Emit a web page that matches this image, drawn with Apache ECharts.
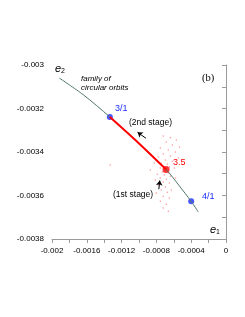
<!DOCTYPE html>
<html><head><meta charset="utf-8">
<script src="https://cdn.jsdelivr.net/npm/echarts@6/dist/echarts.min.js"></script>
<style>html,body{margin:0;padding:0;background:#fff}#c{width:245px;height:317px}</style>
</head><body><div id="c"></div>
<script>
// family of circular orbits (e1, e2)
const familyE1 = [-0.001916, -0.00164, -0.001335, -0.001012, -0.000689, -0.000544, -0.0004, -0.00032];
const familyE2 = [-0.00306, -0.003137, -0.003239, -0.003356, -0.00348, -0.003552, -0.003627, -0.003675];
// red segment (3/1 -> 3.5)
const stageE1 = [-0.001335, -0.001012, -0.000689];
const stageE2 = [-0.003239, -0.003356, -0.00348];
// marked resonances
const resNames = ['3/1', '4/1'];
const resE1 = [-0.001335, -0.0004];
const resE2 = [-0.003239, -0.003627];
const finalE1 = [-0.000689];
const finalE2 = [-0.00348];
// cloud of evolution points
const cloudE1 = [-0.000721,-0.000640,-0.000571,-0.000686,-0.000617,-0.000536,-0.000755,-0.000663,-0.000582,-0.000721,-0.000640,-0.000548,-0.000778,-0.000697,-0.000617,-0.000744,-0.000674,-0.000721,-0.000651,-0.000755,-0.000686,-0.000732,-0.000663,-0.000790,-0.000709,-0.000640,-0.000755,-0.000686,-0.000813,-0.000721,-0.000651,-0.000778,-0.000697,-0.000744,-0.000674,-0.000801,-0.000721,-0.000651,-0.000755,-0.000686,-0.000721,-0.000663,-0.001331,-0.000870,-0.000594,-0.000824,-0.000628,-0.000582];
const cloudE2 = [-0.003326,-0.003335,-0.003345,-0.003354,-0.003368,-0.003377,-0.003382,-0.003391,-0.003400,-0.003409,-0.003418,-0.003428,-0.003423,-0.003437,-0.003442,-0.003451,-0.003455,-0.003465,-0.003469,-0.003474,-0.003483,-0.003492,-0.003497,-0.003502,-0.003506,-0.003511,-0.003520,-0.003525,-0.003529,-0.003538,-0.003543,-0.003552,-0.003561,-0.003575,-0.003585,-0.003589,-0.003603,-0.003612,-0.003626,-0.003640,-0.003658,-0.003672,-0.003460,-0.003483,-0.003474,-0.003451,-0.003575,-0.003520];
// arrows [startE1, startE2, endE1, endE2]
const arrow2nd = [-0.00092, -0.003337, -0.001017, -0.003309];
const arrow1st = [-0.000772, -0.003571, -0.000761, -0.003531];
const xTicks = { min: -0.002, max: 0, interval: 0.0004 };
const yTicks = { min: -0.0038, max: -0.003, interval: 0.0002 };

const zip = (a, b) => a.map((v, i) => [v, b[i]]);
const fmt = v => String(parseFloat(v.toFixed(6)));
const chart = echarts.init(document.getElementById('c'));
const FONT = 'Liberation Sans, Arial, sans-serif';
const axisCommon = {
  axisLine: { show: true, lineStyle: { color: '#9a9a9a', width: 1 } },
  axisTick: { show: true, length: 4, lineStyle: { color: '#9a9a9a' } },
  minorTick: { show: true, splitNumber: 2, length: 4, lineStyle: { color: '#9a9a9a' } },
  splitLine: { show: false },
  axisLabel: { color: '#000', fontSize: 8, fontFamily: FONT, margin: 8, formatter: fmt }
};
chart.setOption({
  animation: false,
  grid: { left: 52, right: 19, top: 65, bottom: 78 },
  xAxis: Object.assign({ type: 'value' }, xTicks, axisCommon),
  yAxis: Object.assign({ type: 'value' }, yTicks, axisCommon),
  series: [
    { type: 'scatter', data: zip(cloudE1, cloudE2), symbolSize: 1.5, itemStyle: { color: '#ff7a7a', opacity: 0.8 }, silent: true },
    { type: 'line', data: zip(familyE1, familyE2), smooth: 0.3, showSymbol: false, lineStyle: { color: '#4f7566', width: 1 } },
    { type: 'line', data: zip(stageE1, stageE2), smooth: 0.3, showSymbol: false, lineStyle: { color: '#ff0000', width: 2 } },
    { type: 'scatter', data: zip(resE1, resE2), symbolSize: 6, itemStyle: { color: '#1a2cff' } },
    { type: 'scatter', data: zip(finalE1, finalE2), symbolSize: 7, itemStyle: { color: '#ff0000' } },
    { type: 'line', data: [], markLine: {
        silent: true, symbol: ['none', 'arrow'], symbolSize: 5, label: { show: false },
        lineStyle: { color: '#000', width: 1, type: 'solid' },
        data: [
          [{ coord: [arrow2nd[0], arrow2nd[1]] }, { coord: [arrow2nd[2], arrow2nd[3]] }],
          [{ coord: [arrow1st[0], arrow1st[1]] }, { coord: [arrow1st[2], arrow1st[3]] }]
        ] } }
  ],
  graphic: [
    { type: 'text', left: 55, top: 63, style: { text: '{e|e}{s|2}', rich: { e: { fontSize: 11, fontStyle: 'italic', fontFamily: FONT, fill: '#000' }, s: { fontSize: 7, fontFamily: FONT, fill: '#000', padding: [6, 0, 0, 0] } } } },
    { type: 'text', left: 210, top: 224, style: { text: '{e|e}{s|1}', rich: { e: { fontSize: 11, fontStyle: 'italic', fontFamily: FONT, fill: '#000' }, s: { fontSize: 7, fontFamily: FONT, fill: '#000', padding: [6, 0, 0, 0] } } } },
    { type: 'text', left: 81, top: 74, style: { text: 'family of\ncircular orbits', fontSize: 8, lineHeight: 9.5, fontStyle: 'italic', fontFamily: FONT, fill: '#000' } },
    { type: 'text', left: 202, top: 73, style: { text: '(b)', fontSize: 10.5, fontFamily: 'Liberation Serif, serif', fill: '#000' } },
    { type: 'text', left: 115, top: 104, style: { text: '3/1', fontSize: 9, fontFamily: FONT, fill: '#1a2cff' } },
    { type: 'text', left: 129, top: 118, style: { text: '(2nd stage)', fontSize: 8.5, fontFamily: FONT, fill: '#000' } },
    { type: 'text', left: 173, top: 158, style: { text: '3.5', fontSize: 9, fontFamily: FONT, fill: '#ff0000' } },
    { type: 'text', left: 113, top: 190, style: { text: '(1st stage)', fontSize: 8.5, fontFamily: FONT, fill: '#000' } },
    { type: 'text', left: 202, top: 192.5, style: { text: '4/1', fontSize: 9, fontFamily: FONT, fill: '#1a2cff' } }
  ]
});
</script></body></html>
